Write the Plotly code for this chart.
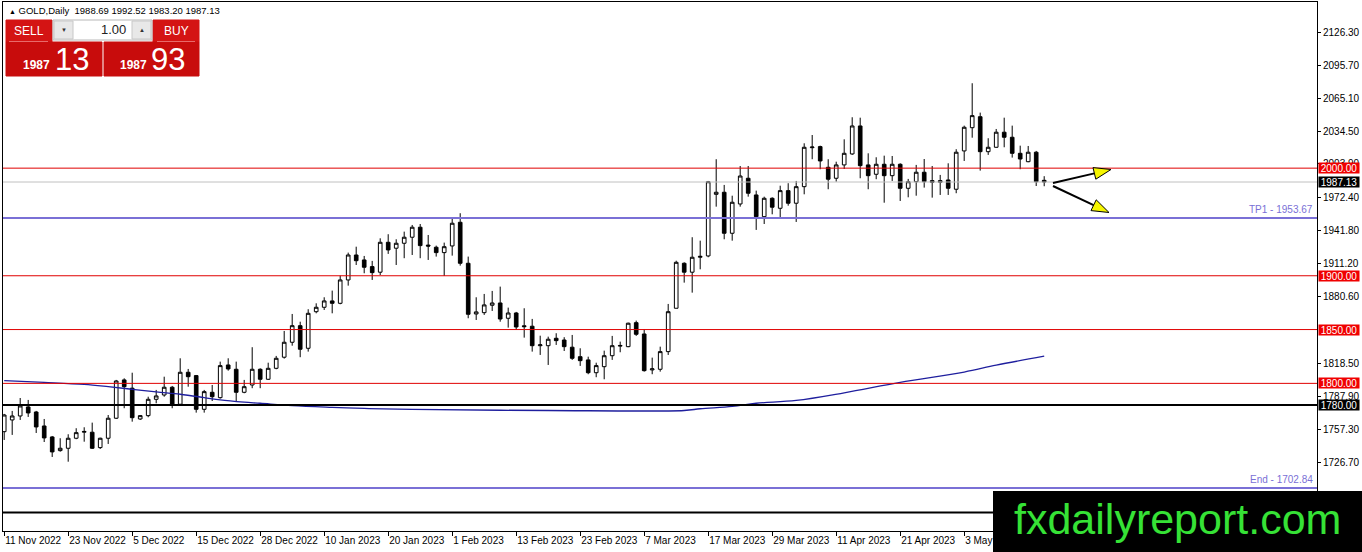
import plotly.graph_objects as go

# daily candles, 11 Nov 2022 .. 17 May 2023 (bar index = position on the chart)
opens = [1755.1, 1766.0, 1769.7, 1778.1, 1773.4, 1760.4, 1750.2, 1737.5, 1739.7, 1749.0,
         1754.6, 1754.6, 1740.3, 1749.0, 1767.6, 1803.2, 1795.5, 1766.9, 1770.0, 1785.2,
         1789.2, 1796.4, 1780.6, 1810.3, 1807.2, 1775.9, 1791.7, 1786.7, 1817.1, 1813.1,
         1791.7, 1798.5, 1813.1, 1803.8, 1814.0, 1824.3, 1838.2, 1853.6, 1832.6, 1866.6,
         1870.7, 1876.6, 1874.4, 1896.1, 1919.3, 1914.7, 1908.5, 1903.3, 1931.1, 1925.6,
         1930.2, 1935.8, 1945.1, 1928.5, 1926.5, 1921.5, 1927.7, 1949.7, 1911.6, 1864.5,
         1865.7, 1872.6, 1874.7, 1860.5, 1865.4, 1853.5, 1853.1, 1835.0, 1835.0, 1841.9,
         1840.3, 1833.6, 1824.8, 1821.8, 1809.9, 1815.5, 1825.7, 1834.6, 1834.1, 1856.4,
         1845.9, 1812.5, 1813.1, 1829.5, 1869.8, 1911.6, 1903.3, 1917.2, 1918.4, 1975.7,
         1977.6, 1939.5, 1966.7, 1990.6, 1975.1, 1954.9, 1972.0, 1962.7, 1979.1, 1967.4,
         1982.8, 2019.0, 2020.0, 2000.8, 1990.6, 2003.0, 2013.2, 2039.2, 2003.0, 1994.3,
         2003.6, 1993.0, 2003.6, 1981.3, 1987.4, 1996.2, 1988.4, 1986.9, 1989.0, 1980.4,
         2016.0, 2037.6, 2047.8, 2015.3, 2019.4, 2033.4, 2028.7, 2013.8, 2006.0, 2014.8,
         1988.69]
highs = [1771.6, 1774.4, 1786.4, 1784.6, 1774.4, 1766.9, 1751.1, 1749.0, 1752.7, 1758.3,
         1759.2, 1763.5, 1749.5, 1770.6, 1803.2, 1804.7, 1809.9, 1770.6, 1787.6, 1793.9,
         1806.2, 1797.6, 1823.3, 1813.4, 1807.8, 1793.9, 1798.5, 1820.2, 1823.3, 1820.2,
         1803.2, 1833.6, 1814.0, 1819.2, 1825.5, 1848.7, 1864.5, 1857.3, 1868.9, 1874.4,
         1880.0, 1886.2, 1900.1, 1921.5, 1927.0, 1918.4, 1913.8, 1934.8, 1938.6, 1933.9,
         1941.0, 1947.2, 1948.1, 1937.9, 1928.0, 1930.8, 1952.8, 1958.1, 1917.8, 1880.0,
         1883.1, 1885.9, 1889.9, 1870.4, 1866.4, 1869.8, 1859.9, 1844.3, 1843.4, 1846.6,
         1842.9, 1845.0, 1832.6, 1824.8, 1819.2, 1830.4, 1844.1, 1838.8, 1856.4, 1858.3,
         1850.3, 1823.9, 1834.1, 1873.8, 1914.0, 1912.5, 1935.8, 1932.6, 1988.1, 2008.3,
         1984.4, 1974.4, 2002.0, 2002.0, 1979.1, 1973.5, 1972.9, 1983.7, 1986.0, 1988.1,
         2023.1, 2030.8, 2020.9, 2008.3, 2006.0, 2026.8, 2047.3, 2046.9, 2013.8, 2010.1,
         2011.6, 2011.3, 2004.5, 1990.0, 2003.0, 2008.5, 2002.0, 1993.7, 2004.5, 2017.6,
         2039.5, 2078.9, 2051.6, 2027.8, 2036.4, 2046.9, 2039.5, 2020.9, 2020.6, 2016.0,
         1992.52]
lows = [1747.4, 1752.1, 1766.0, 1768.8, 1753.9, 1745.5, 1731.6, 1736.5, 1727.2, 1748.1,
        1745.8, 1739.0, 1739.0, 1743.7, 1766.9, 1776.9, 1764.4, 1766.0, 1768.5, 1781.5,
        1787.6, 1776.9, 1780.0, 1796.9, 1772.8, 1772.8, 1783.6, 1785.8, 1811.8, 1783.0,
        1790.8, 1795.5, 1795.5, 1803.2, 1813.1, 1823.0, 1835.0, 1824.3, 1829.5, 1865.1,
        1868.2, 1865.1, 1873.5, 1890.8, 1910.0, 1902.3, 1896.1, 1900.7, 1920.3, 1910.0,
        1916.3, 1919.3, 1916.3, 1914.7, 1917.8, 1899.8, 1918.7, 1909.4, 1860.5, 1858.9,
        1863.6, 1867.3, 1857.3, 1851.8, 1849.6, 1842.5, 1829.5, 1826.4, 1817.1, 1835.7,
        1830.1, 1821.8, 1816.2, 1808.5, 1805.7, 1803.8, 1821.8, 1828.9, 1833.6, 1844.1,
        1810.9, 1808.5, 1810.9, 1826.4, 1869.8, 1893.6, 1884.3, 1906.0, 1917.2, 1964.2,
        1933.9, 1932.6, 1964.2, 1973.5, 1942.6, 1948.1, 1957.1, 1953.4, 1965.1, 1950.0,
        1975.7, 2008.3, 1999.0, 1980.4, 1987.4, 1999.2, 2012.3, 1990.6, 1980.4, 1989.7,
        1967.9, 1988.1, 1969.5, 1972.9, 1974.4, 1981.9, 1972.6, 1975.1, 1975.1, 1976.7,
        2006.7, 2028.3, 1997.7, 2012.3, 2019.0, 2019.4, 2009.8, 1999.0, 2005.5, 1983.4,
        1983.20]
closes = [1770.6, 1769.7, 1779.0, 1772.5, 1759.5, 1749.3, 1736.3, 1739.7, 1749.0, 1754.2,
          1755.3, 1739.7, 1749.0, 1767.6, 1802.2, 1796.9, 1768.1, 1770.0, 1785.2, 1788.3,
          1796.4, 1780.6, 1810.3, 1806.2, 1775.9, 1792.3, 1787.6, 1816.5, 1813.4, 1791.7,
          1796.9, 1813.1, 1803.8, 1814.0, 1823.3, 1838.2, 1853.6, 1831.7, 1865.1, 1870.7,
          1876.6, 1874.4, 1896.1, 1919.3, 1914.0, 1907.9, 1902.9, 1931.1, 1924.0, 1930.2,
          1935.8, 1945.1, 1928.0, 1927.6, 1921.5, 1927.0, 1948.8, 1911.6, 1864.2, 1866.4,
          1872.9, 1874.7, 1859.8, 1865.4, 1852.4, 1852.7, 1835.0, 1835.8, 1841.0, 1839.7,
          1834.1, 1823.3, 1821.1, 1809.9, 1816.5, 1825.7, 1835.0, 1835.2, 1855.9, 1845.6,
          1811.8, 1813.5, 1829.5, 1866.6, 1912.5, 1903.3, 1917.2, 1918.0, 1987.4, 1977.6,
          1939.5, 1968.3, 1992.7, 1976.7, 1954.9, 1972.0, 1963.7, 1979.1, 1967.4, 1982.8,
          2019.4, 2019.6, 2006.7, 1989.7, 2003.0, 2013.8, 2039.2, 2002.3, 1993.0, 2003.6,
          1993.0, 2003.6, 1981.3, 1987.4, 1996.2, 1987.4, 1986.9, 1988.4, 1981.3, 2014.8,
          2038.0, 2048.8, 2015.3, 2019.4, 2033.4, 2028.7, 2013.8, 2008.5, 2014.8, 1987.4,
          1987.13]
bars = list(range(len(opens)))

# moving average read at some bars
ma_bars = [0, 5, 10, 13, 16, 19, 22, 25, 27, 30, 32, 36, 41, 45, 51, 68, 85, 87, 91, 94,
           99, 105, 112, 120, 124, 130]
ma_values = [1802.5, 1800.9, 1799.0, 1796.9, 1794.5, 1792.0, 1789.9, 1786.8, 1784.6, 1782.5,
             1781.5, 1779.3, 1777.7, 1776.7, 1775.8, 1774.8, 1774.8, 1776.4, 1778.6, 1781.5,
             1784.1, 1791.2, 1800.9, 1810.5, 1816.9, 1825.3]

red_levels = [2000.00, 1900.00, 1850.00, 1800.00]
black_level = 1780.00
bid_price = 1987.13
tp1 = 1953.67
end_level = 1702.84
bottom_level = 1680.0

y_ticks = [2126.30, 2095.70, 2065.10, 2034.50, 2003.90, 1972.40, 1941.80, 1911.20,
           1880.60, 1818.50, 1787.90, 1757.30, 1726.70]
x_tick_bars = [0, 8, 16, 24, 32, 40, 48, 56, 64, 72, 80, 88, 96, 104, 112, 120]
x_tick_labels = ["11 Nov 2022", "23 Nov 2022", "5 Dec 2022", "15 Dec 2022", "28 Dec 2022",
                 "10 Jan 2023", "20 Jan 2023", "1 Feb 2023", "13 Feb 2023", "23 Feb 2023",
                 "7 Mar 2023", "17 Mar 2023", "29 Mar 2023", "11 Apr 2023", "21 Apr 2023",
                 "3 May 2023"]

W, H = 1362, 552
L, R, T, B = 3, 45, 2, 21
FONT = "Liberation Sans"


def px(x):
    return (x - L) / (W - L - R)


def py(y):
    return (H - B - y) / (H - T - B)


fig = go.Figure()

fig.add_trace(go.Scatter(
    x=ma_bars, y=ma_values, mode="lines",
    line=dict(color="#1f1f9e", width=1.3, shape="spline"),
    hoverinfo="skip", showlegend=False))

fig.add_trace(go.Candlestick(
    x=bars, open=opens, high=highs, low=lows, close=closes,
    increasing=dict(line=dict(color="black", width=1), fillcolor="white"),
    decreasing=dict(line=dict(color="black", width=1), fillcolor="black"),
    whiskerwidth=0, showlegend=False, hoverinfo="skip"))

shapes = []


def hline(lv, color, width):
    shapes.append(dict(type="line", xref="paper", x0=0, x1=1, yref="y", y0=lv, y1=lv,
                       line=dict(color=color, width=width), layer="above"))


hline(bid_price, "#c0c0c0", 1)
for lv in red_levels:
    hline(lv, "#e00000", 1)
for lv in [tp1, end_level]:
    hline(lv, "#7a70d6", 2)
for lv in [black_level, bottom_level]:
    hline(lv, "black", 2)


def rect(x0, y0, x1, y1, fill, line=None):
    shapes.append(dict(type="rect", xref="paper", yref="paper",
                       x0=px(x0), x1=px(x1), y0=py(y1), y1=py(y0),
                       fillcolor=fill, line=dict(color=line or fill, width=1), layer="above"))


# one click trading panel
rect(6, 20, 52, 42, "#d41414")
rect(153, 20, 199, 42, "#d41414")
rect(6, 42, 102, 76, "#c80c0c")
rect(104, 42, 199, 76, "#c80c0c")
rect(53, 20, 152, 40, "white", "#b8b8b8")
rect(54, 21, 73, 39, "#e8e8e8", "#c8c8c8")
rect(132, 21, 151, 39, "#e8e8e8", "#c8c8c8")
shapes.append(dict(type="line", xref="paper", yref="paper", x0=px(9), x1=px(48),
                   y0=py(41.5), y1=py(41.5), line=dict(color="#e86a6a", width=1), layer="above"))
shapes.append(dict(type="line", xref="paper", yref="paper", x0=px(157), x1=px(195),
                   y0=py(41.5), y1=py(41.5), line=dict(color="#e86a6a", width=1), layer="above"))

# arrows
for (sx, sy), (tx, ty), (bx, by), (p1x, p1y), (p2x, p2y) in [
        ((1053, 183), (1111, 169.5), (1094.4, 173.4), (1095.8, 179.2), (1093.0, 167.6)),
        ((1053, 186), (1109, 212.5), (1093.6, 205.2), (1091.0, 210.6), (1096.2, 199.8))]:
    shapes.append(dict(type="line", xref="paper", yref="paper", x0=px(sx), y0=py(sy),
                       x1=px(bx), y1=py(by), line=dict(color="black", width=2), layer="above"))
    path = "M %f %f L %f %f L %f %f Z" % (px(tx), py(ty), px(p1x), py(p1y), px(p2x), py(p2y))
    shapes.append(dict(type="path", xref="paper", yref="paper", path=path,
                       fillcolor="#f5f500", line=dict(color="black", width=1), layer="above"))

# watermark box
shapes.append(dict(type="rect", xref="paper", yref="paper", x0=px(993), x1=px(1362),
                   y0=py(552), y1=py(491), fillcolor="black", line=dict(width=0), layer="above"))

ann = []


def text(x, y, s, size, color, xanchor="center", bold=False):
    ann.append(dict(xref="paper", yref="paper", x=px(x), y=py(y), text="<b>%s</b>" % s if bold else s,
                    showarrow=False, xanchor=xanchor, yanchor="middle",
                    font=dict(family=FONT, size=size, color=color)))


text(7, 10, "<span style='font-size:7px'>▲</span> GOLD,Daily  1988.69 1992.52 1983.20 1987.13",
     9.5, "black", "left")
text(29, 31, "SELL", 12, "white")
text(176, 31, "BUY", 12, "white")
text(63.5, 30, "▼", 6, "#333333")
text(141.5, 30, "▲", 6, "#333333")
text(128, 30, "1.00", 13, "#222222", "right")
text(36, 65, "1987", 12, "white", bold=True)
text(72, 59, "13", 31, "white")
text(133, 65, "1987", 12, "white", bold=True)
text(168, 59, "93", 31, "white")
text(1177, 519, "fxdailyreport.com", 43, "#36e236")

for lv, txt in [(tp1, "TP1 - 1953.67"), (end_level, "End - 1702.84")]:
    ann.append(dict(xref="paper", yref="y", x=px(1315), y=lv, yshift=1, text=txt,
                    showarrow=False, xanchor="right", yanchor="bottom",
                    font=dict(family=FONT, size=10, color="#7a70d6")))

for lv, bg in [(2000.00, "#f00000"), (1900.00, "#f00000"), (1850.00, "#f00000"),
               (1800.00, "#f00000"), (bid_price, "black"), (black_level, "black")]:
    ann.append(dict(xref="paper", yref="y", x=1, xshift=1, y=lv, text="%.2f" % lv,
                    showarrow=False, xanchor="left", yanchor="middle", width=40, height=10,
                    bgcolor=bg, borderpad=0, align="center",
                    font=dict(family=FONT, size=10, color="white")))

fig.update_layout(
    width=W, height=H,
    margin=dict(l=L, r=R, t=T, b=B, autoexpand=False),
    paper_bgcolor="white", plot_bgcolor="white",
    shapes=shapes, annotations=ann,
    boxgap=0.35,
    xaxis=dict(range=[-0.15, -0.15 + (W - L - R) / 8],
               rangeslider=dict(visible=False), showgrid=False, zeroline=False,
               tickvals=x_tick_bars, ticktext=x_tick_labels, tickangle=0,
               ticks="outside", ticklen=4, tickcolor="black",
               ticklabelposition="outside right", automargin=False,
               tickfont=dict(family=FONT, size=10, color="black"),
               showline=True, mirror=True, linecolor="black", linewidth=1),
    yaxis=dict(side="right", range=[1662.8, 2154.4], showgrid=False, zeroline=False,
               tickvals=y_ticks, ticktext=["%.2f" % v for v in y_ticks], automargin=False,
               ticks="outside", ticklen=3, tickcolor="black",
               tickfont=dict(family=FONT, size=10, color="black"),
               showline=True, mirror=True, linecolor="black", linewidth=1),
)

fig.write_html("out.html", config={"displayModeBar": False},
               post_script="document.body.style.margin='0';")
